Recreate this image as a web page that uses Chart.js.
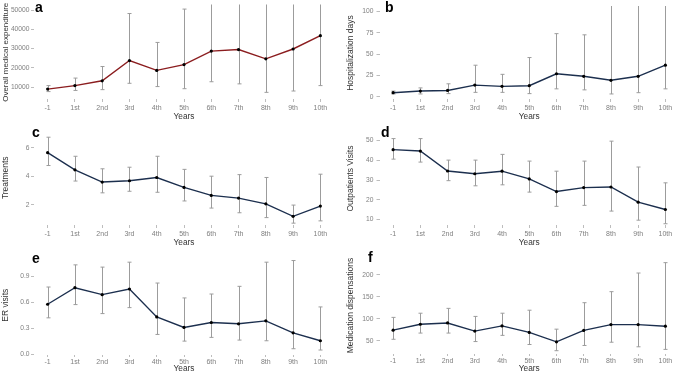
<!DOCTYPE html>
<html>
<head>
<meta charset="utf-8">
<script src="https://cdn.jsdelivr.net/npm/chart.js@4.4.1/dist/chart.umd.min.js"></script>
<style>
html, body { margin: 0; padding: 0; background: #fff; overflow: hidden; width: 676px; height: 375px; position: relative; }
canvas { position: absolute; }
.tag { position: absolute; font: bold 14px "Liberation Sans", Arial, sans-serif; color: #000; line-height: 14px; }
</style>
</head>
<body>
<canvas id="pa" width="338" height="125" style="left:0;top:0"></canvas>
<canvas id="pb" width="345" height="125" style="left:338px;top:0"></canvas>
<canvas id="pc" width="338" height="125" style="left:0;top:125px"></canvas>
<canvas id="pd" width="345" height="125" style="left:338px;top:125px"></canvas>
<canvas id="pe" width="338" height="125" style="left:0;top:250px"></canvas>
<canvas id="pf" width="345" height="125" style="left:338px;top:250px"></canvas>
<div class="tag" style="left:35px;top:0">a</div>
<div class="tag" style="left:385px;top:0">b</div>
<div class="tag" style="left:32px;top:125px">c</div>
<div class="tag" style="left:381px;top:125px">d</div>
<div class="tag" style="left:32px;top:251px">e</div>
<div class="tag" style="left:368px;top:250px">f</div>
<script>
var years = ["-1", "1st", "2nd", "3rd", "4th", "5th", "6th", "7th", "8th", "9th", "10th"];

// a: overall medical expenditure
var costMean = [9000, 10800, 13300, 23800, 18700, 21700, 28700, 29500, 24700, 29800, 36700];
var costLow  = [7700, 8300, 8700, 12000, 10300, 9200, 12800, 11700, 7300, 8000, 10800];
var costHigh = [10800, 14700, 20700, 48200, 33200, 50500, 57000, 62000, 58000, 60000, 68000];
var costTicks = [10000, 20000, 30000, 40000, 50000];

// b: hospitalization days
var hospMean = [4.8, 6.7, 7.4, 13.7, 12.2, 13.0, 27.0, 24.0, 19.3, 24.0, 37.0];
var hospLow  = [3.3, 3.3, 3.7, 5.2, 5.2, 3.7, 9.3, 8.1, 3.3, 4.8, 9.3];
var hospHigh = [6.7, 10.4, 15.2, 37.0, 26.3, 46.0, 74.0, 72.6, 120, 115, 130];
var hospTicks = [0, 25, 50, 75, 100];

// c: treatments
var treatMean = [5.66, 4.46, 3.60, 3.69, 3.92, 3.22, 2.66, 2.47, 2.07, 1.19, 1.91];
var treatLow  = [4.76, 3.67, 2.84, 2.95, 2.88, 2.27, 1.77, 1.44, 1.10, 0.71, 0.87];
var treatHigh = [6.75, 5.41, 4.53, 4.64, 5.41, 4.49, 4.01, 4.12, 3.92, 1.98, 4.15];
var treatTicks = [2, 4, 6];

// d: outpatients visits
var outMean = [45.4, 44.7, 34.6, 33.2, 34.5, 30.6, 24.2, 26.2, 26.5, 18.8, 15.1];
var outLow  = [40.6, 39.1, 29.7, 27.1, 27.6, 23.9, 16.7, 17.2, 14.3, 9.7, 7.9];
var outHigh = [51.0, 51.0, 40.1, 40.1, 43.0, 39.6, 34.5, 39.6, 49.7, 36.6, 28.6];
var outTicks = [10, 20, 30, 40, 50];

// e: ER visits
var erMean = [0.575, 0.766, 0.686, 0.751, 0.429, 0.307, 0.364, 0.349, 0.383, 0.245, 0.153];
var erLow  = [0.418, 0.571, 0.467, 0.536, 0.226, 0.149, 0.192, 0.161, 0.153, 0.061, 0.046];
var erHigh = [0.774, 1.030, 1.004, 1.061, 0.820, 0.648, 0.693, 0.782, 1.061, 1.080, 0.544];
var erTicks = [0.0, 0.3, 0.6, 0.9];

// f: medication dispensations
var medMean = [74.5, 87.9, 90.8, 72.3, 84.1, 69.3, 47.8, 73.8, 87.1, 87.1, 83.4];
var medLow  = [53.7, 67.8, 67.8, 48.5, 62.6, 41.8, 27.7, 39.6, 47.0, 36.6, 30.7];
var medHigh = [103.5, 113.0, 124.0, 105.7, 113.0, 119.8, 76.7, 136.9, 162.0, 204.4, 228.0];
var medTicks = [50, 100, 150, 200];

var FONT = "'Liberation Sans', Arial, sans-serif";

// draws the grey error bars from the low/high arrays
var errorBars = {
  id: 'errorBars',
  beforeDatasetsDraw: function (chart, args, opts) {
    var ctx = chart.ctx, xs = chart.scales.x, ys = chart.scales.y, area = chart.chartArea;
    ctx.save();
    ctx.beginPath();
    ctx.rect(area.left, area.top - 1, area.right - area.left, area.bottom - area.top + 2);
    ctx.clip();
    ctx.strokeStyle = '#9c9c9c';
    ctx.lineWidth = 1;
    for (var i = 0; i < opts.low.length; i++) {
      var x = Math.round(xs.getPixelForValue(i)) + 0.5;
      var y1 = ys.getPixelForValue(opts.low[i]);
      var y2 = ys.getPixelForValue(opts.high[i]);
      ctx.beginPath();
      ctx.moveTo(x, y1); ctx.lineTo(x, y2);
      ctx.moveTo(x - 2, y1); ctx.lineTo(x + 2, y1);
      ctx.moveTo(x - 2, y2); ctx.lineTo(x + 2, y2);
      ctx.stroke();
    }
    ctx.restore();
  }
};

function makePanel(id, title, mean, low, high, ticks, color, lay) {
  var canvas = document.getElementById(id);
  var H = canvas.height;
  return new Chart(canvas, {
    type: 'line',
    data: {
      labels: years,
      datasets: [{
        data: mean,
        borderColor: color,
        borderWidth: 1.4,
        backgroundColor: '#000',
        pointBackgroundColor: '#000',
        pointBorderColor: '#000',
        pointRadius: 1.6,
        pointBorderWidth: 0,
        tension: 0,
        fill: false
      }]
    },
    options: {
      responsive: false,
      animation: false,
      layout: { padding: { top: lay.top, right: 0, bottom: 0, left: 0 } },
      plugins: {
        legend: { display: false },
        tooltip: { enabled: false },
        errorBars: { low: low, high: high }
      },
      scales: {
        x: {
          offset: true,
          afterFit: function (s) { s.height = H - lay.bottom; },
          border: { display: false },
          grid: { drawOnChartArea: false, drawTicks: true, tickLength: lay.xTick, color: '#bdbdbd' },
          ticks: { color: '#808080', font: { family: FONT, size: 7 }, padding: lay.xPad, maxRotation: 0, autoSkip: false },
          title: { display: true, text: 'Years', color: '#333', font: { family: FONT, size: 8.3 }, padding: { top: 0, bottom: lay.tPad } }
        },
        y: {
          min: lay.min,
          max: lay.max,
          afterFit: function (s) { s.width = lay.left; },
          afterBuildTicks: function (s) { s.ticks = ticks.map(function (v) { return { value: v }; }); },
          border: { display: false },
          grid: { drawOnChartArea: false, drawTicks: true, tickLength: 3, color: '#bdbdbd' },
          ticks: {
            color: '#808080', font: { family: FONT, size: 6.7 }, padding: lay.yPad,
            callback: function (v) { return lay.dec ? Number(v).toFixed(lay.dec) : String(v); }
          },
          title: { display: true, text: title, color: '#333', font: { family: FONT, size: lay.tSize }, padding: { top: lay.yTitle, bottom: 0 } }
        }
      }
    },
    plugins: [errorBars]
  });
}

makePanel('pa', 'Overall medical expenditure', costMean, costLow, costHigh, costTicks, '#8b1d1f',
  { top: 2, bottom: 99, left: 34, min: 3850, max: 52350, xTick: 3, xPad: 2, tPad: 3, yPad: 1.5, yTitle: 1, tSize: 8 });
makePanel('pb', 'Hospitalization days', hospMean, hospLow, hospHigh, hospTicks, '#1c2f4e',
  { top: 2, bottom: 99, left: 41.5, min: -2.6, max: 105.2, xTick: 3, xPad: 2, tPad: 3, yPad: 3, yTitle: 7.4, tSize: 8.5 });
makePanel('pc', 'Treatments', treatMean, treatLow, treatHigh, treatTicks, '#1c2f4e',
  { top: 2, bottom: 100, left: 34, min: 0.58, max: 7.22, xTick: 3, xPad: 2, tPad: 2, yPad: 1.5, yTitle: 1, tSize: 8.5 });
makePanel('pd', 'Outpatients Visits', outMean, outLow, outHigh, outTicks, '#1c2f4e',
  { top: 2, bottom: 100, left: 41.5, min: 7.26, max: 54.32, xTick: 3, xPad: 2, tPad: 2, yPad: 3, yTitle: 7.4, tSize: 8.5 });
makePanel('pe', 'ER visits', erMean, erLow, erHigh, erTicks, '#1c2f4e',
  { top: 5, bottom: 105, left: 34, min: -0.0115, max: 1.138, xTick: 2, xPad: 1, tPad: 1, yPad: 1.5, yTitle: 1, tSize: 8.5, dec: 1 });
makePanel('pf', 'Medication dispensations', medMean, medLow, medHigh, medTicks, '#1c2f4e',
  { top: 5, bottom: 104, left: 41.5, min: 20.2, max: 240.8, xTick: 2, xPad: 1, tPad: 1, yPad: 3, yTitle: 7.4, tSize: 8.5 });
</script>
</body>
</html>
